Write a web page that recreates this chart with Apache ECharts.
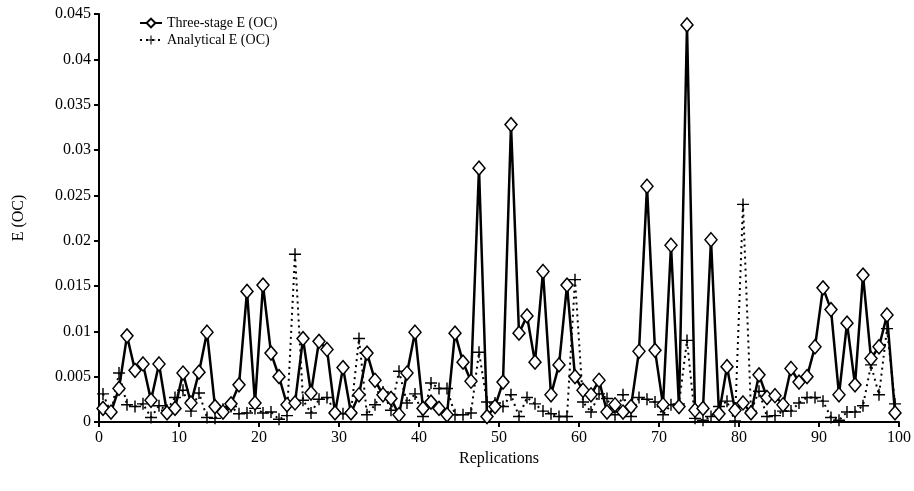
<!DOCTYPE html>
<html>
<head>
<meta charset="utf-8">
<script src="https://cdn.jsdelivr.net/npm/echarts@6/dist/echarts.min.js"></script>
<style>
  html, body { margin: 0; padding: 0; background: #fff; }
  #chart { width: 914px; height: 491px; }
</style>
</head>
<body>
<div id="chart"></div>
<script>
// replication numbers 1..100, each plotted at the middle of its slot (i - 0.5)
const replications = []
for (let i = 1; i <= 100; i++) replications.push(i)

const threeStage = [
  0.0015, 0.0011, 0.0037, 0.0095, 0.0057, 0.0064, 0.0024, 0.0064, 0.0010, 0.0015,
  0.0054, 0.0021, 0.0055, 0.0099, 0.0017, 0.0011, 0.0020, 0.0041, 0.0144, 0.0021,
  0.0151, 0.0076, 0.0050, 0.0019, 0.0021, 0.0092, 0.0032, 0.0089, 0.0080, 0.0010,
  0.0060, 0.0010, 0.0030, 0.0076, 0.0046, 0.0030, 0.0026, 0.0008, 0.0054, 0.0099,
  0.0015, 0.0022, 0.0015, 0.0008, 0.0098, 0.0066, 0.0045, 0.0280, 0.0006, 0.0017,
  0.0044, 0.0328, 0.0098, 0.0117, 0.0066, 0.0166, 0.0030, 0.0063, 0.0151, 0.0050,
  0.0035, 0.0030, 0.0046, 0.0011, 0.0019, 0.0011, 0.0017, 0.0078, 0.0260, 0.0079,
  0.0019, 0.0195, 0.0017, 0.0438, 0.0013, 0.0015, 0.0201, 0.0009, 0.0061, 0.0013,
  0.0021, 0.0010, 0.0052, 0.0027, 0.0029, 0.0019, 0.0059, 0.0044, 0.0050, 0.0083,
  0.0148, 0.0124, 0.0030, 0.0109, 0.0041, 0.0162, 0.0070, 0.0083, 0.0118, 0.0010
]

const analytical = [
  0.0031, 0.0010, 0.0054, 0.0019, 0.0017, 0.0020, 0.0005, 0.0018, 0.0013, 0.0027,
  0.0035, 0.0012, 0.0032, 0.0005, 0.0004, 0.0014, 0.0017, 0.0009, 0.0010, 0.0015,
  0.0010, 0.0011, 0.0003, 0.0007, 0.0185, 0.0024, 0.0010, 0.0025, 0.0027, 0.0011,
  0.0009, 0.0011, 0.0092, 0.0008, 0.0019, 0.0033, 0.0013, 0.0056, 0.0021, 0.0031,
  0.0006, 0.0043, 0.0037, 0.0037, 0.0008, 0.0008, 0.0010, 0.0077, 0.0022, 0.0021,
  0.0017, 0.0030, 0.0006, 0.0027, 0.0020, 0.0012, 0.0009, 0.0006, 0.0006, 0.0157,
  0.0022, 0.0011, 0.0031, 0.0026, 0.0008, 0.0030, 0.0006, 0.0027, 0.0025, 0.0022,
  0.0008, 0.0019, 0.0020, 0.0090, 0.0004, 0.0002, 0.0006, 0.0017, 0.0023, 0.0001,
  0.0240, 0.0012, 0.0034, 0.0006, 0.0007, 0.0012, 0.0012, 0.0021, 0.0027, 0.0027,
  0.0023, 0.0005, 0.0002, 0.0011, 0.0011, 0.0018, 0.0063, 0.0030, 0.0103, 0.0020
]

const seriesNames = ['Three-stage E (OC)', 'Analytical E (OC)']

const font = 'Liberation Serif'
const plusSymbol = 'path://M4.4,0h1.2v4.4h4.4v1.2h-4.4v4.4h-1.2v-4.4h-4.4v-1.2h4.4z'

function toPoints(values) {
  return values.map((v, i) => [replications[i] - 0.5, v])
}

const chart = echarts.init(document.getElementById('chart'))
chart.setOption({
  animation: false,
  backgroundColor: '#fff',
  grid: {
    left: 99,
    right: 14,
    top: 14,
    bottom: 69
  },
  legend: {
    data: seriesNames,
    orient: 'vertical',
    left: 134,
    top: 11,
    itemGap: 3,
    itemWidth: 22,
    itemHeight: 11,
    textStyle: {
      fontFamily: font,
      fontSize: 14,
      color: '#000'
    }
  },
  xAxis: {
    type: 'value',
    min: 0,
    max: 100,
    interval: 10,
    name: 'Replications',
    nameLocation: 'middle',
    nameGap: 28,
    nameTextStyle: { fontFamily: font, fontSize: 16, color: '#000' },
    axisLine: { lineStyle: { color: '#000', width: 2 } },
    axisTick: { show: true, inside: false, length: 5, lineStyle: { color: '#000', width: 2 } },
    axisLabel: { fontFamily: font, fontSize: 16, color: '#000', margin: 8 },
    splitLine: { show: false }
  },
  yAxis: {
    type: 'value',
    min: 0,
    max: 0.045,
    interval: 0.005,
    name: 'E (OC)',
    nameLocation: 'middle',
    nameGap: 72,
    nameTextStyle: { fontFamily: font, fontSize: 16, color: '#000' },
    axisLine: { show: true, lineStyle: { color: '#000', width: 2 } },
    axisTick: { show: true, inside: false, length: 5, lineStyle: { color: '#000', width: 2 } },
    axisLabel: {
      fontFamily: font,
      fontSize: 16,
      color: '#000',
      margin: 8,
      formatter: v => String(parseFloat(v.toFixed(3)))
    },
    splitLine: { show: false }
  },
  series: [
    {
      name: seriesNames[1],
      type: 'line',
      data: toPoints(analytical),
      symbol: plusSymbol,
      symbolSize: 12,
      z: 2,
      itemStyle: { color: '#000' },
      lineStyle: { color: '#000', width: 2, type: [2, 4] }
    },
    {
      name: seriesNames[0],
      type: 'line',
      data: toPoints(threeStage),
      symbol: 'diamond',
      symbolSize: [12, 14],
      z: 3,
      itemStyle: { color: '#fff', borderColor: '#000', borderWidth: 1.5 },
      lineStyle: { color: '#000', width: 2.5 }
    }
  ]
})
</script>
</body>
</html>
